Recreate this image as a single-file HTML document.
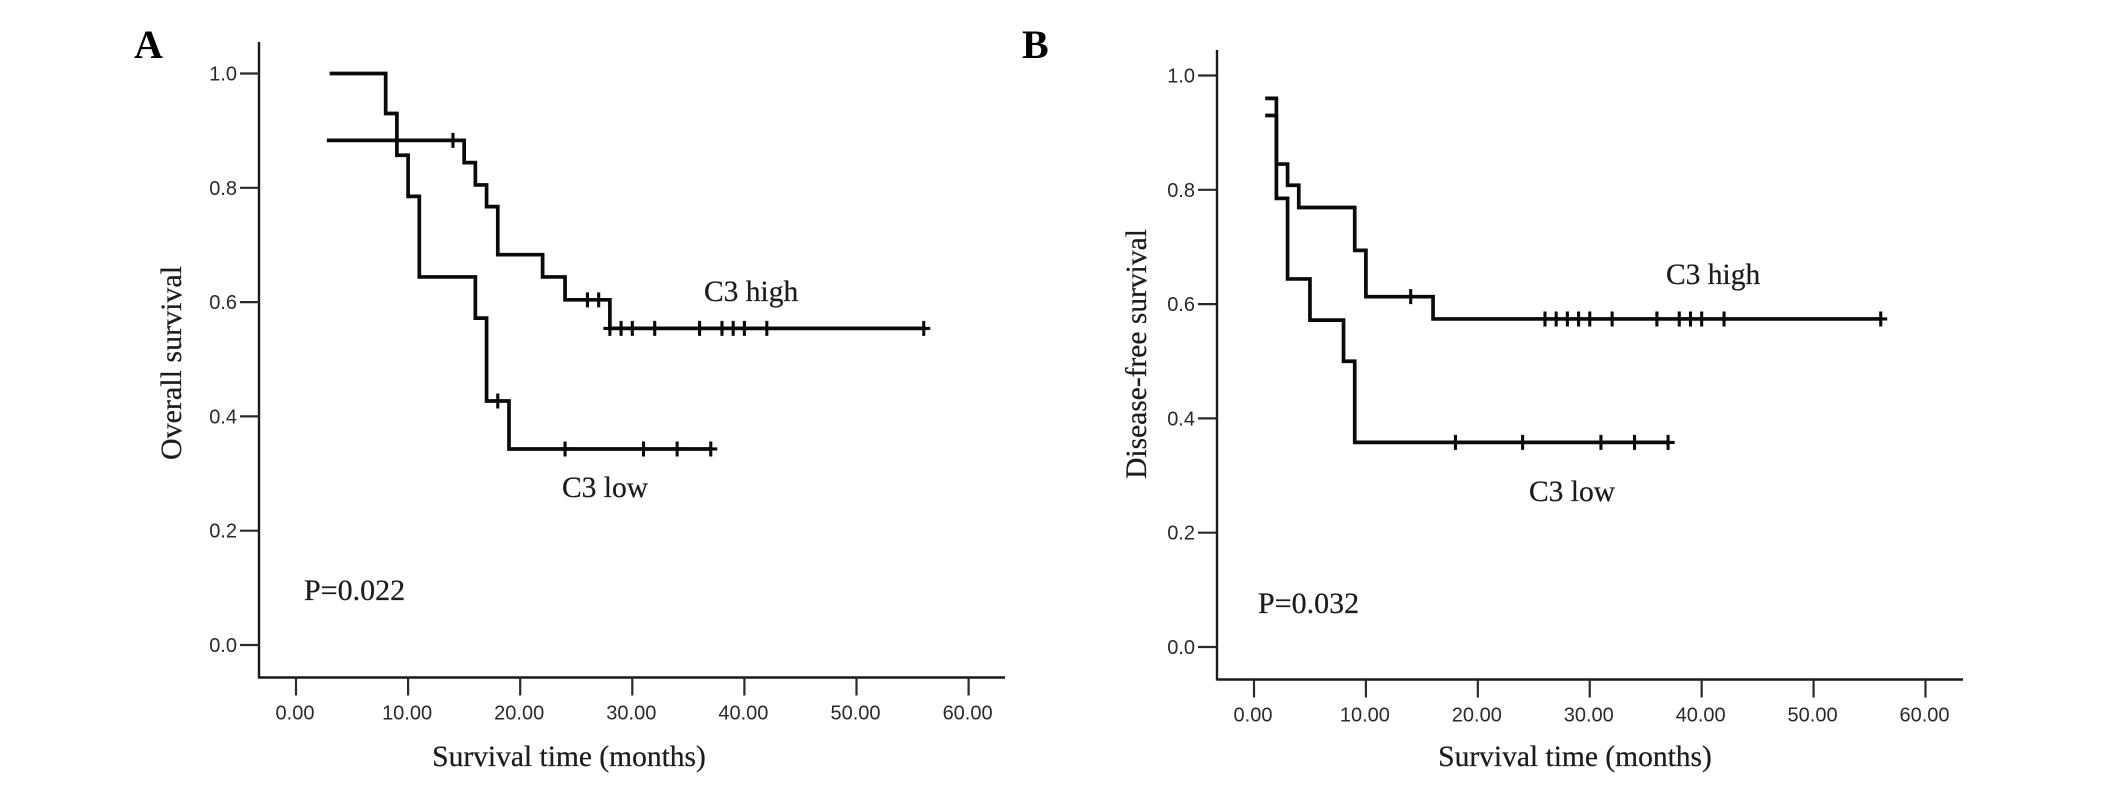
<!DOCTYPE html>
<html lang="en">
<head>
<meta charset="utf-8">
<title>Survival curves by C3 expression</title>
<style>
  html, body { margin: 0; padding: 0; background: #fff; }
  svg { display: block; }
  .serif { font-family: "Liberation Serif", serif; fill: #1c1c1c; font-size: 29.5px; stroke: #1c1c1c; stroke-width: 0.25px; }
  .panel-letter { font-family: "Liberation Serif", serif; fill: #000; font-size: 40px; font-weight: bold; }
  .tick-text { font-family: "Liberation Sans", sans-serif; fill: #2a2a2a; font-size: 20px; }
</style>
</head>
<body>
<svg id="figure" xmlns="http://www.w3.org/2000/svg" width="2126" height="788" viewBox="0 0 2126 788">
  <rect x="0" y="0" width="2126" height="788" fill="#fff"/>

  <g id="panel-a"></g>
  <g id="panel-b"></g>

  <text class="panel-letter" x="134" y="58">A</text>
  <text class="panel-letter" x="1022" y="58">B</text>

  <text class="serif" style="font-size:30px" transform="translate(181,363) rotate(-90)" text-anchor="middle">Overall survival</text>
  <text class="serif" x="569" y="766" text-anchor="middle">Survival time (months)</text>
  <text class="serif" x="704" y="301">C3 high</text>
  <text class="serif" x="562" y="497">C3 low</text>
  <text class="serif" style="font-size:30px" x="304" y="600">P=0.022</text>

  <text class="serif" transform="translate(1146,354) rotate(-90)" text-anchor="middle">Disease-free survival</text>
  <text class="serif" x="1575" y="766" text-anchor="middle">Survival time (months)</text>
  <text class="serif" x="1666" y="284">C3 high</text>
  <text class="serif" x="1529" y="501">C3 low</text>
  <text class="serif" style="font-size:30px" x="1258" y="613">P=0.032</text>
</svg>

<script>
// Shared axis tick values
const xTickValues = [0, 10, 20, 30, 40, 50, 60];
const xTickLabels = ['0.00', '10.00', '20.00', '30.00', '40.00', '50.00', '60.00'];
const yTickValues = [0, 0.2, 0.4, 0.6, 0.8, 1.0];
const yTickLabels = ['0.0', '0.2', '0.4', '0.6', '0.8', '1.0'];

// Panel A: overall survival
const aHighTimes = [2.75, 15, 16, 17, 18, 22, 24, 28, 56];
const aHighSurvival = [0.883, 0.844, 0.805, 0.767, 0.683, 0.644, 0.604, 0.554, 0.554];
const aHighCensored = [14, 26, 27, 28, 29, 30, 32, 36, 38, 39, 40, 42, 56];
const aLowTimes = [3, 8, 9, 10, 11, 16, 17, 19, 37];
const aLowSurvival = [1.0, 0.93, 0.857, 0.785, 0.644, 0.572, 0.427, 0.343, 0.343];
const aLowCensored = [18, 24, 31, 34, 37];

// Panel B: disease-free survival
const bHighTimes = [1, 2, 3, 4, 9, 10, 16, 56];
const bHighSurvival = [0.96, 0.845, 0.808, 0.769, 0.694, 0.613, 0.574, 0.574];
const bHighCensored = [14, 26, 27, 28, 29, 30, 32, 36, 38, 39, 40, 42, 56];
const bLowTimes = [1, 2, 3, 5, 8, 9, 37];
const bLowSurvival = [0.93, 0.785, 0.644, 0.572, 0.5, 0.358, 0.358];
const bLowCensored = [18, 24, 31, 34, 37];

const SVG_NS = 'http://www.w3.org/2000/svg';

function make(parent, tag, attrs) {
  const el = document.createElementNS(SVG_NS, tag);
  for (const k in attrs) el.setAttribute(k, attrs[k]);
  parent.appendChild(el);
  return el;
}

function survivalAt(times, values, t) {
  let v = values[0];
  for (let i = 0; i < times.length; i++) {
    if (times[i] <= t) v = values[i];
  }
  return v;
}

function drawAxes(group, g) {
  const xAxis = make(group, 'line', { x1: g.axisX, x2: g.axisRight, y1: g.axisY, y2: g.axisY, stroke: '#1a1a1a', 'stroke-width': 2.4 });
  
  
  const yAxis = make(group, 'line', { x1: g.axisX, x2: g.axisX, y1: g.axisTop, y2: g.axisY + 1, stroke: '#1a1a1a', 'stroke-width': 2.4 });
  
  

  xTickValues.forEach(function (v, i) {
    const px = g.x(v);
    const tick = make(group, 'line', { x1: px, x2: px, y1: g.axisY, y2: g.axisY + 18, stroke: '#2a2a2a', 'stroke-width': 2.2 });
    
    
    const label = make(group, 'text', { x: px - 1, y: g.axisY + 42, 'text-anchor': 'middle', class: 'tick-text' });
    
    
    label.textContent = xTickLabels[i];
  });

  yTickValues.forEach(function (v, i) {
    const py = g.y(v);
    const tick = make(group, 'line', { x1: g.axisX - 19, x2: g.axisX, y1: py, y2: py, stroke: '#2a2a2a', 'stroke-width': 2.2 });
    
    
    const label = make(group, 'text', { x: g.axisX - 22, y: py + 7, 'text-anchor': 'end', class: 'tick-text' });
    
    
    label.textContent = yTickLabels[i];
  });
}

function stepPath(g, times, values) {
  let d = 'M' + g.x(times[0]) + ' ' + g.y(values[0]);
  for (let i = 1; i < times.length; i++) {
    d += 'H' + g.x(times[i]) + 'V' + g.y(values[i]);
  }
  return d;
}

function censorPath(g, times, values, censored) {
  let d = '';
  censored.forEach(function (t) {
    const px = g.x(t);
    const py = g.y(survivalAt(times, values, t));
    d += 'M' + px + ' ' + (py - 7.5) + 'V' + (py + 7.5);
    d += 'M' + (px - 6.5) + ' ' + py + 'H' + (px + 6.5);
  });
  return d;
}

function drawSeries(group, g, times, values, censored, curveName, markerName) {
  const curve = make(group, 'path', { d: stepPath(g, times, values), fill: 'none', stroke: '#0a0a0a', 'stroke-width': 3.7, 'stroke-linejoin': 'miter' });
  
  
  const marks = make(group, 'path', { d: censorPath(g, times, values, censored), fill: 'none', stroke: '#0a0a0a', 'stroke-width': 3.1 });
  
  
}

function geometry(axisX, axisRight, axisTop, axisY, x0, x60, y0, y1) {
  return {
    axisX: axisX, axisRight: axisRight, axisTop: axisTop, axisY: axisY,
    x: function (t) { return x0 + (x60 - x0) * t / 60; },
    y: function (s) { return y0 + (y1 - y0) * s; }
  };
}

const geoA = geometry(259, 1005, 42, 677.5, 296, 968.6, 645, 73.5);
const geoB = geometry(1217, 1963, 50, 679.5, 1254, 1925.5, 647, 75.5);

const panelA = document.getElementById('panel-a');
drawAxes(panelA, geoA);
drawSeries(panelA, geoA, aHighTimes, aHighSurvival, aHighCensored, 'panel-a-c3-high-curve', 'panel-a-c3-high-censor-marks');
drawSeries(panelA, geoA, aLowTimes, aLowSurvival, aLowCensored, 'panel-a-c3-low-curve', 'panel-a-c3-low-censor-marks');

const panelB = document.getElementById('panel-b');
drawAxes(panelB, geoB);
drawSeries(panelB, geoB, bHighTimes, bHighSurvival, bHighCensored, 'panel-b-c3-high-curve', 'panel-b-c3-high-censor-marks');
drawSeries(panelB, geoB, bLowTimes, bLowSurvival, bLowCensored, 'panel-b-c3-low-curve', 'panel-b-c3-low-censor-marks');
</script>
</body>
</html>
